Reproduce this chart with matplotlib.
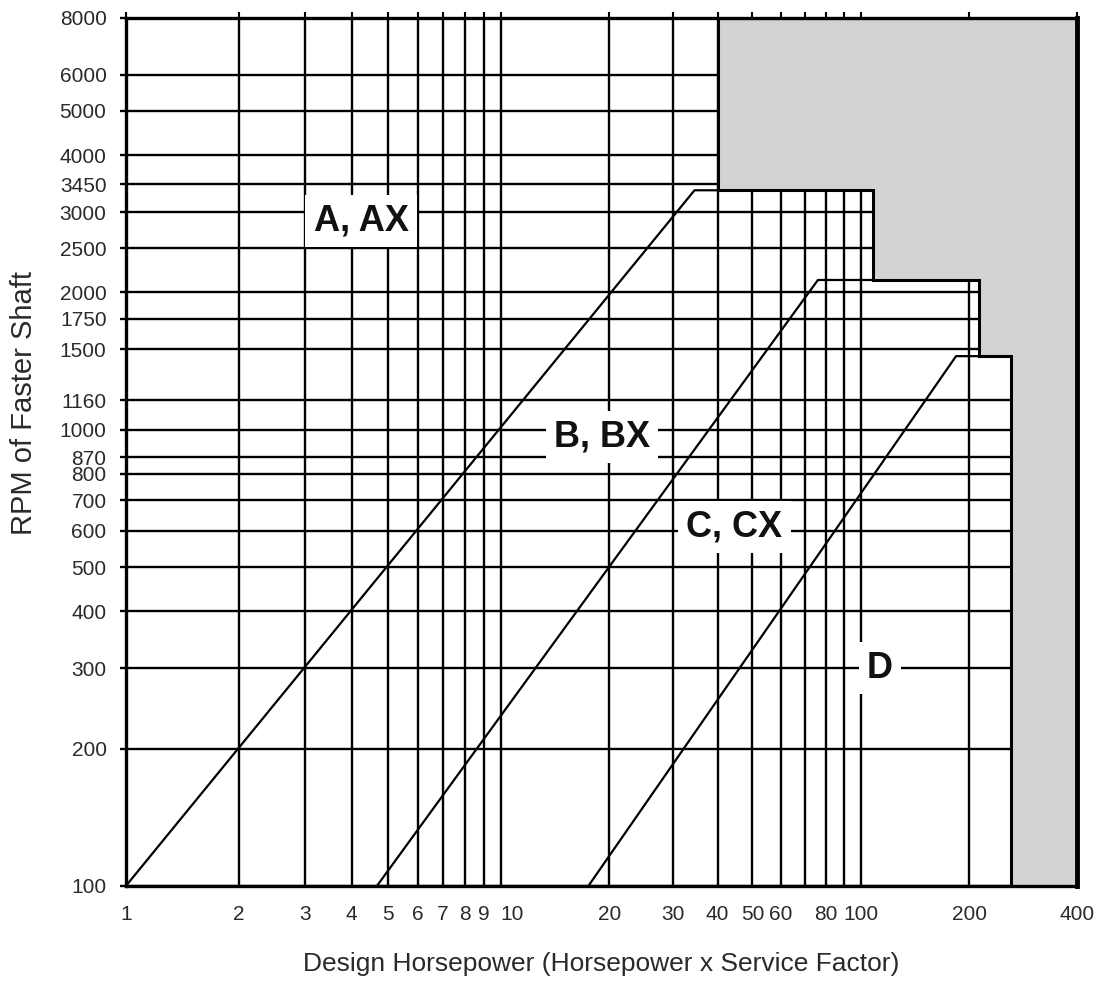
import numpy as np
import matplotlib
matplotlib.use("Agg")
from matplotlib import pyplot as plt
from matplotlib.ticker import FixedLocator, FixedFormatter, NullLocator
from matplotlib.patches import Polygon
from matplotlib.transforms import ScaledTranslation

plt.rcParams["font.family"] = ["Liberation Sans", "DejaVu Sans"]

# axis ticks / grid
hp_grid = [1, 2, 3, 4, 5, 6, 7, 8, 9, 10, 20, 30, 40, 50, 60, 70, 80, 90, 100, 200, 400]
hp_labels = ["1", "2", "3", "4", "5", "6", "7", "8", "9", "10", "20", "30",
             "40", "50", "60", "", "80", "", "100", "200", "400"]
rpm_grid = [100, 200, 300, 400, 500, 600, 700, 800, 870, 1000, 1160, 1500,
            1750, 2000, 2500, 3000, 3450, 4000, 5000, 6000, 8000]

# belt section boundaries (design hp, rpm)
line_a_hp = [1, 34.5, 40]
line_a_rpm = [100, 3350, 3350]
line_b_hp = [4.67, 76, 108]
line_b_rpm = [100, 2130, 2130]
line_c_hp = [17.5, 184, 262]
line_c_rpm = [100, 1450, 1450]

# shaded region (outside recommended range)
shade_hp = [40, 40, 108, 108, 213, 213, 262, 262, 400, 400]
shade_rpm = [8000, 3350, 3350, 2130, 2130, 1450, 1450, 100, 100, 8000]

# section labels
sec_names = ["A, AX", "B, BX", "C, CX", "D"]
sec_hp = [4.24, 19.1, 44.5, 113]
sec_rpm = [2870, 965, 612, 300]

# the printed chart's first decade is drawn a little wider than the others
K = 375.0 / 359.7


def fwd(x):
    l = np.log10(np.clip(np.asarray(x, dtype=float), 1e-9, None))
    return np.where(l <= 1, l * K, K + (l - 1))


def inv(v):
    v = np.asarray(v, dtype=float)
    return np.where(v <= K, 10 ** (v / K), 10 ** (v - K + 1))


fig = plt.figure(figsize=(11.05, 9.92), dpi=100)
ax = fig.add_axes([0.114, 0.107, 0.861, 0.875])
ax.set_xscale("function", functions=(fwd, inv))
ax.set_yscale("log")
ax.set_xlim(1, 400)
ax.set_ylim(100, 8000)

ax.xaxis.set_major_locator(FixedLocator(hp_grid))
ax.xaxis.set_major_formatter(FixedFormatter(hp_labels))
ax.xaxis.set_minor_locator(NullLocator())
ax.yaxis.set_major_locator(FixedLocator(rpm_grid))
ax.yaxis.set_major_formatter(FixedFormatter([str(v) for v in rpm_grid]))
ax.yaxis.set_minor_locator(NullLocator())

ax.grid(True, color="black", linewidth=1.7, zorder=0.5)
ax.set_axisbelow(True)

ax.tick_params(axis="x", which="major", direction="out", length=0, pad=14,
               labelsize=15, labelcolor="#2a2a2a", top=True, labeltop=False)
ax.tick_params(axis="y", which="major", direction="out", length=4, width=1.7,
               pad=10, labelsize=15, labelcolor="#2a2a2a")
for t in ax.xaxis.get_major_ticks():
    t.tick2line.set_markersize(4)
    t.tick2line.set_markeredgewidth(1.5)

# nudge the "10" label right like the printed chart
lbl10 = ax.xaxis.get_major_ticks()[hp_grid.index(10)].label1
lbl10.set_transform(lbl10.get_transform() + ScaledTranslation(8 / 72, 0, fig.dpi_scale_trans))

shade = Polygon(list(zip(shade_hp, shade_rpm)), closed=True, facecolor="#d1d3d4",
                edgecolor="black", linewidth=2.2, zorder=2)
ax.add_patch(shade)

for xs, ys in [(line_a_hp, line_a_rpm), (line_b_hp, line_b_rpm), (line_c_hp, line_c_rpm)]:
    ax.plot(xs, ys, color="black", linewidth=1.6, zorder=2.5, solid_capstyle="butt")

for name, x, y in zip(sec_names, sec_hp, sec_rpm):
    ax.text(x, y, name, ha="center", va="center", fontsize=26, fontweight="bold",
            color="#111111", bbox=dict(facecolor="white", edgecolor="none", pad=6),
            zorder=3)

for side in ["left", "top", "bottom"]:
    ax.spines[side].set_linewidth(2.4)
ax.spines["right"].set_linewidth(3.5)
for sp in ax.spines.values():
    sp.set_zorder(4)

ax.set_xlabel("Design Horsepower (Horsepower x Service Factor)", fontsize=19, color="#2a2a2a")
ax.xaxis.set_label_coords(0.5, -0.076)
ax.set_ylabel("RPM of Faster Shaft", fontsize=21, color="#2a2a2a")
ax.yaxis.set_label_coords(-0.092, 0.556)

fig.savefig("out.png", dpi=100)
